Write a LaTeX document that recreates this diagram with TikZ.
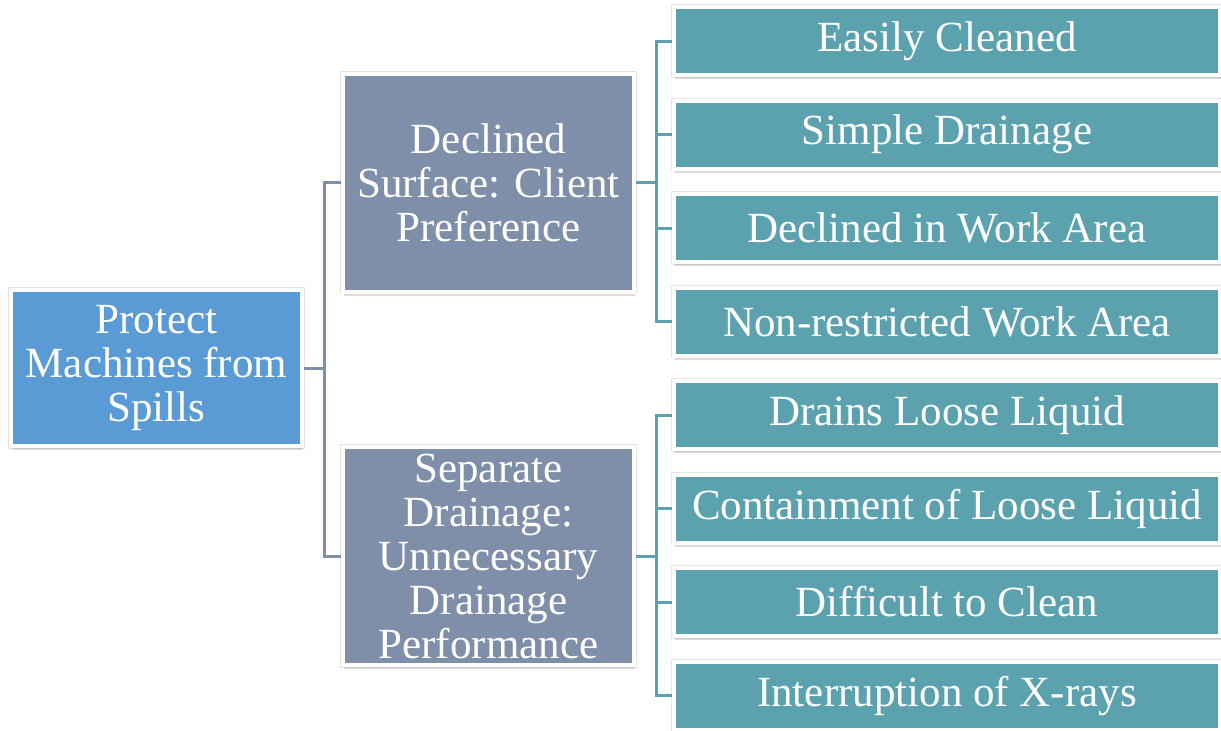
\documentclass[tikz,border=0pt]{standalone}
\usepackage{fontspec}
\setmainfont{Liberation Serif}
\usetikzlibrary{shadows}
\definecolor{rootblue}{RGB}{91,155,213}
\definecolor{slate}{RGB}{127,143,169}
\definecolor{tealbox}{RGB}{91,162,174}
\begin{document}
\begin{tikzpicture}[x=0.5pt,y=-0.5pt,
  box/.style={draw=white, line width=2pt, text=white, align=center, inner sep=0pt,
    font=\fontsize{21.5}{22}\selectfont,
    general shadow={shadow xshift=0pt, shadow yshift=0pt, fill=black, draw=black, line width=2.8pt, opacity=0.1},
    drop shadow={shadow xshift=0.6pt, shadow yshift=-2.2pt, opacity=0.28}},
  rootbox/.style={box, fill=rootblue, minimum width=145.5pt, minimum height=78pt},
  midbox/.style={box, fill=slate, minimum width=145.5pt, minimum height=109pt},
  leafbox/.style={box, fill=tealbox, minimum width=273pt, minimum height=34pt},
  link/.style={draw, line width=1.5pt}]
\useasboundingbox (0,0) rectangle (1221,730);

\node[rootbox] (p) at (156.5,368) {Protect\\Machines from\\Spills};
\node[midbox] (d) at (488.5,182.5) {Declined\\Surface: Client\\Preference};
\node[midbox] (s) at (488.5,556) {Separate\\Drainage:\\Unnecessary\\Drainage\\Performance};

\foreach \t [count=\i] in {Easily Cleaned, Simple Drainage, Declined in Work Area, Non-restricted Work Area}
  \node[leafbox] (d\i) at (947,{41+93.5*(\i-1)}) {\t};
\foreach \t [count=\i] in {Drains Loose Liquid, Containment of Loose Liquid, Difficult to Clean, Interruption of X-rays}
  \node[leafbox] (s\i) at (947,{415+93.5*(\i-1)}) {\t};

\path[link,slate] (p.east) -- ++(20,0) |- (d.west);
\path[link,slate] (p.east) -- ++(20,0) |- (s.west);
\foreach \i in {1,...,4} {
  \path[link,tealbox] (d.east) -- ++(20,0) |- (d\i.west);
  \path[link,tealbox] (s.east) -- ++(20,0) |- (s\i.west);
}
\end{tikzpicture}
\end{document}
